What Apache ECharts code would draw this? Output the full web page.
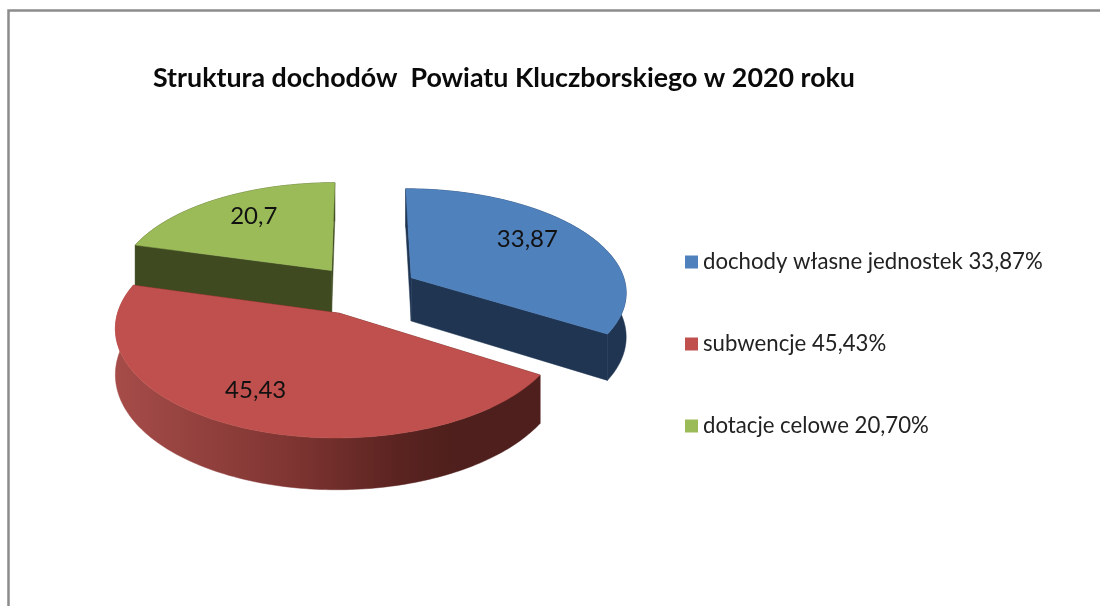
<!DOCTYPE html>
<html>
<head>
<meta charset="utf-8">
<title>Struktura dochodów</title>
<style>
html, body { margin: 0; padding: 0; background: #fff; }
#main { width: 1100px; height: 606px; }
</style>
<script src="https://cdn.jsdelivr.net/npm/echarts@6/dist/echarts.min.js"></script>
</head>
<body>
<div id="main"></div>
<script>
var titleText = 'Struktura dochodów  Powiatu Kluczborskiego w 2020 roku';
var categories = ['dochody własne jednostek', 'subwencje', 'dotacje celowe'];
var shares = [33.87, 45.43, 20.7];

var topColors = ['#4f81bd', '#c0504d', '#9bbb59'];
var cutColors = ['#1f3552', '#4e1f1c', '#3f4a20'];
var wallFills = [
    '#1f3552',
    { type: 'linear', x: 0, y: 0, x2: 1, y2: 0, colorStops: [
        { offset: 0, color: '#a64c49' },
        { offset: 0.43, color: '#7d3431' },
        { offset: 0.67, color: '#5a2320' },
        { offset: 0.8, color: '#4e1f1c' },
        { offset: 1, color: '#4e1f1c' }
    ] },
    '#3f4a20'
];

// pie projection: world plane -> screen, front of the pie is larger
var view = { cx: 361, cy: 289, rx: 216, ry: 103, k: 0.1236, depth: 44 };
var explode = [0.27, 0.24, 0.23];
var sliceDy = [2, 1, 0];
var labelLayout = [
    { r: 0.66, dx: 0, dy: -8 },
    { r: 0.7, dx: -14, dy: 1 },
    { r: 0.59, dx: -8, dy: -11 }
];

var total = shares.reduce(function (a, b) { return a + b; }, 0);

function project(wx, wz, down, dy) {
    var p = 1 + view.k * wz;
    return [
        view.cx + view.rx * wx / p,
        view.cy + dy - view.ry * wz / p + (down ? view.depth / p : 0)
    ];
}

function sliceAngles(i) {
    var before = 0;
    for (var j = 0; j < i; j++) before += shares[j];
    return [before / total * 2 * Math.PI, (before + shares[i]) / total * 2 * Math.PI];
}

function renderSlice(i) {
    var a = sliceAngles(i);
    var mid = (a[0] + a[1]) / 2;
    var ox = explode[i] * Math.sin(mid);
    var oz = explode[i] * Math.cos(mid);
    var dy = sliceDy[i];
    var n = Math.ceil((a[1] - a[0]) / 0.02);
    var rim = [], rimLow = [];
    for (var s = 0; s <= n; s++) {
        var t = a[0] + (a[1] - a[0]) * s / n;
        rim.push(project(ox + Math.sin(t), oz + Math.cos(t), false, dy));
        rimLow.push(project(ox + Math.sin(t), oz + Math.cos(t), true, dy));
    }
    var apex = project(ox, oz, false, dy);
    var apexLow = project(ox, oz, true, dy);
    var l = labelLayout[i];
    var lp = project(ox + l.r * Math.sin(mid), oz + l.r * Math.cos(mid), false, dy);

    function poly(points, fill) {
        return { type: 'polygon', shape: { points: points }, style: { fill: fill, stroke: fill, lineWidth: 0.5 } };
    }
    return {
        type: 'group',
        children: [
            poly([apex, rim[0], rimLow[0], apexLow], cutColors[i]),
            poly([apex, rim[n], rimLow[n], apexLow], cutColors[i]),
            poly(rim.concat(rimLow.slice().reverse()), wallFills[i]),
            poly([apex].concat(rim), topColors[i]),
            {
                type: 'text',
                style: {
                    x: lp[0] + l.dx,
                    y: lp[1] + l.dy,
                    text: String(shares[i]).replace('.', ','),
                    fill: '#111',
                    font: '24px Lato, sans-serif',
                    align: 'center',
                    verticalAlign: 'middle'
                }
            }
        ]
    };
}

// back slices first so the red one overlaps them
var drawOrder = [2, 0, 1];
var series = drawOrder.map(function (i) {
    return {
        type: 'custom',
        name: categories[i] + ' ' + shares[i].toFixed(2).replace('.', ',') + '%',
        coordinateSystem: 'none',
        silent: true,
        z: drawOrder.indexOf(i) + 2,
        itemStyle: { color: topColors[i] },
        data: [[shares[i]]],
        renderItem: function () { return renderSlice(i); }
    };
});

var myChart = echarts.init(document.getElementById('main'), null, { renderer: 'canvas' });
myChart.setOption({
    animation: false,
    backgroundColor: '#fff',
    title: {
        text: titleText,
        left: 153,
        top: 65,
        padding: 0,
        textStyle: { color: '#0a0a0a', fontFamily: 'Lato, sans-serif', fontWeight: 'bold', fontSize: 26.8 }
    },
    legend: {
        orient: 'vertical',
        left: 685,
        top: 251,
        padding: 0,
        itemWidth: 13,
        itemHeight: 13,
        itemGap: 60,
        icon: 'rect',
        selectedMode: false,
        data: categories.map(function (c, i) {
            return c + ' ' + shares[i].toFixed(2).replace('.', ',') + '%';
        }),
        textStyle: { color: '#222', fontFamily: 'Lato, sans-serif', fontSize: 22.2 }
    },
    graphic: [{
        type: 'polyline',
        silent: true,
        shape: { points: [[8.5, 606], [8.5, 10.5], [1100, 10.5]] },
        style: { fill: 'none', stroke: '#8c8c8c', lineWidth: 2.5 }
    }],
    series: series
});
</script>
</body>
</html>
